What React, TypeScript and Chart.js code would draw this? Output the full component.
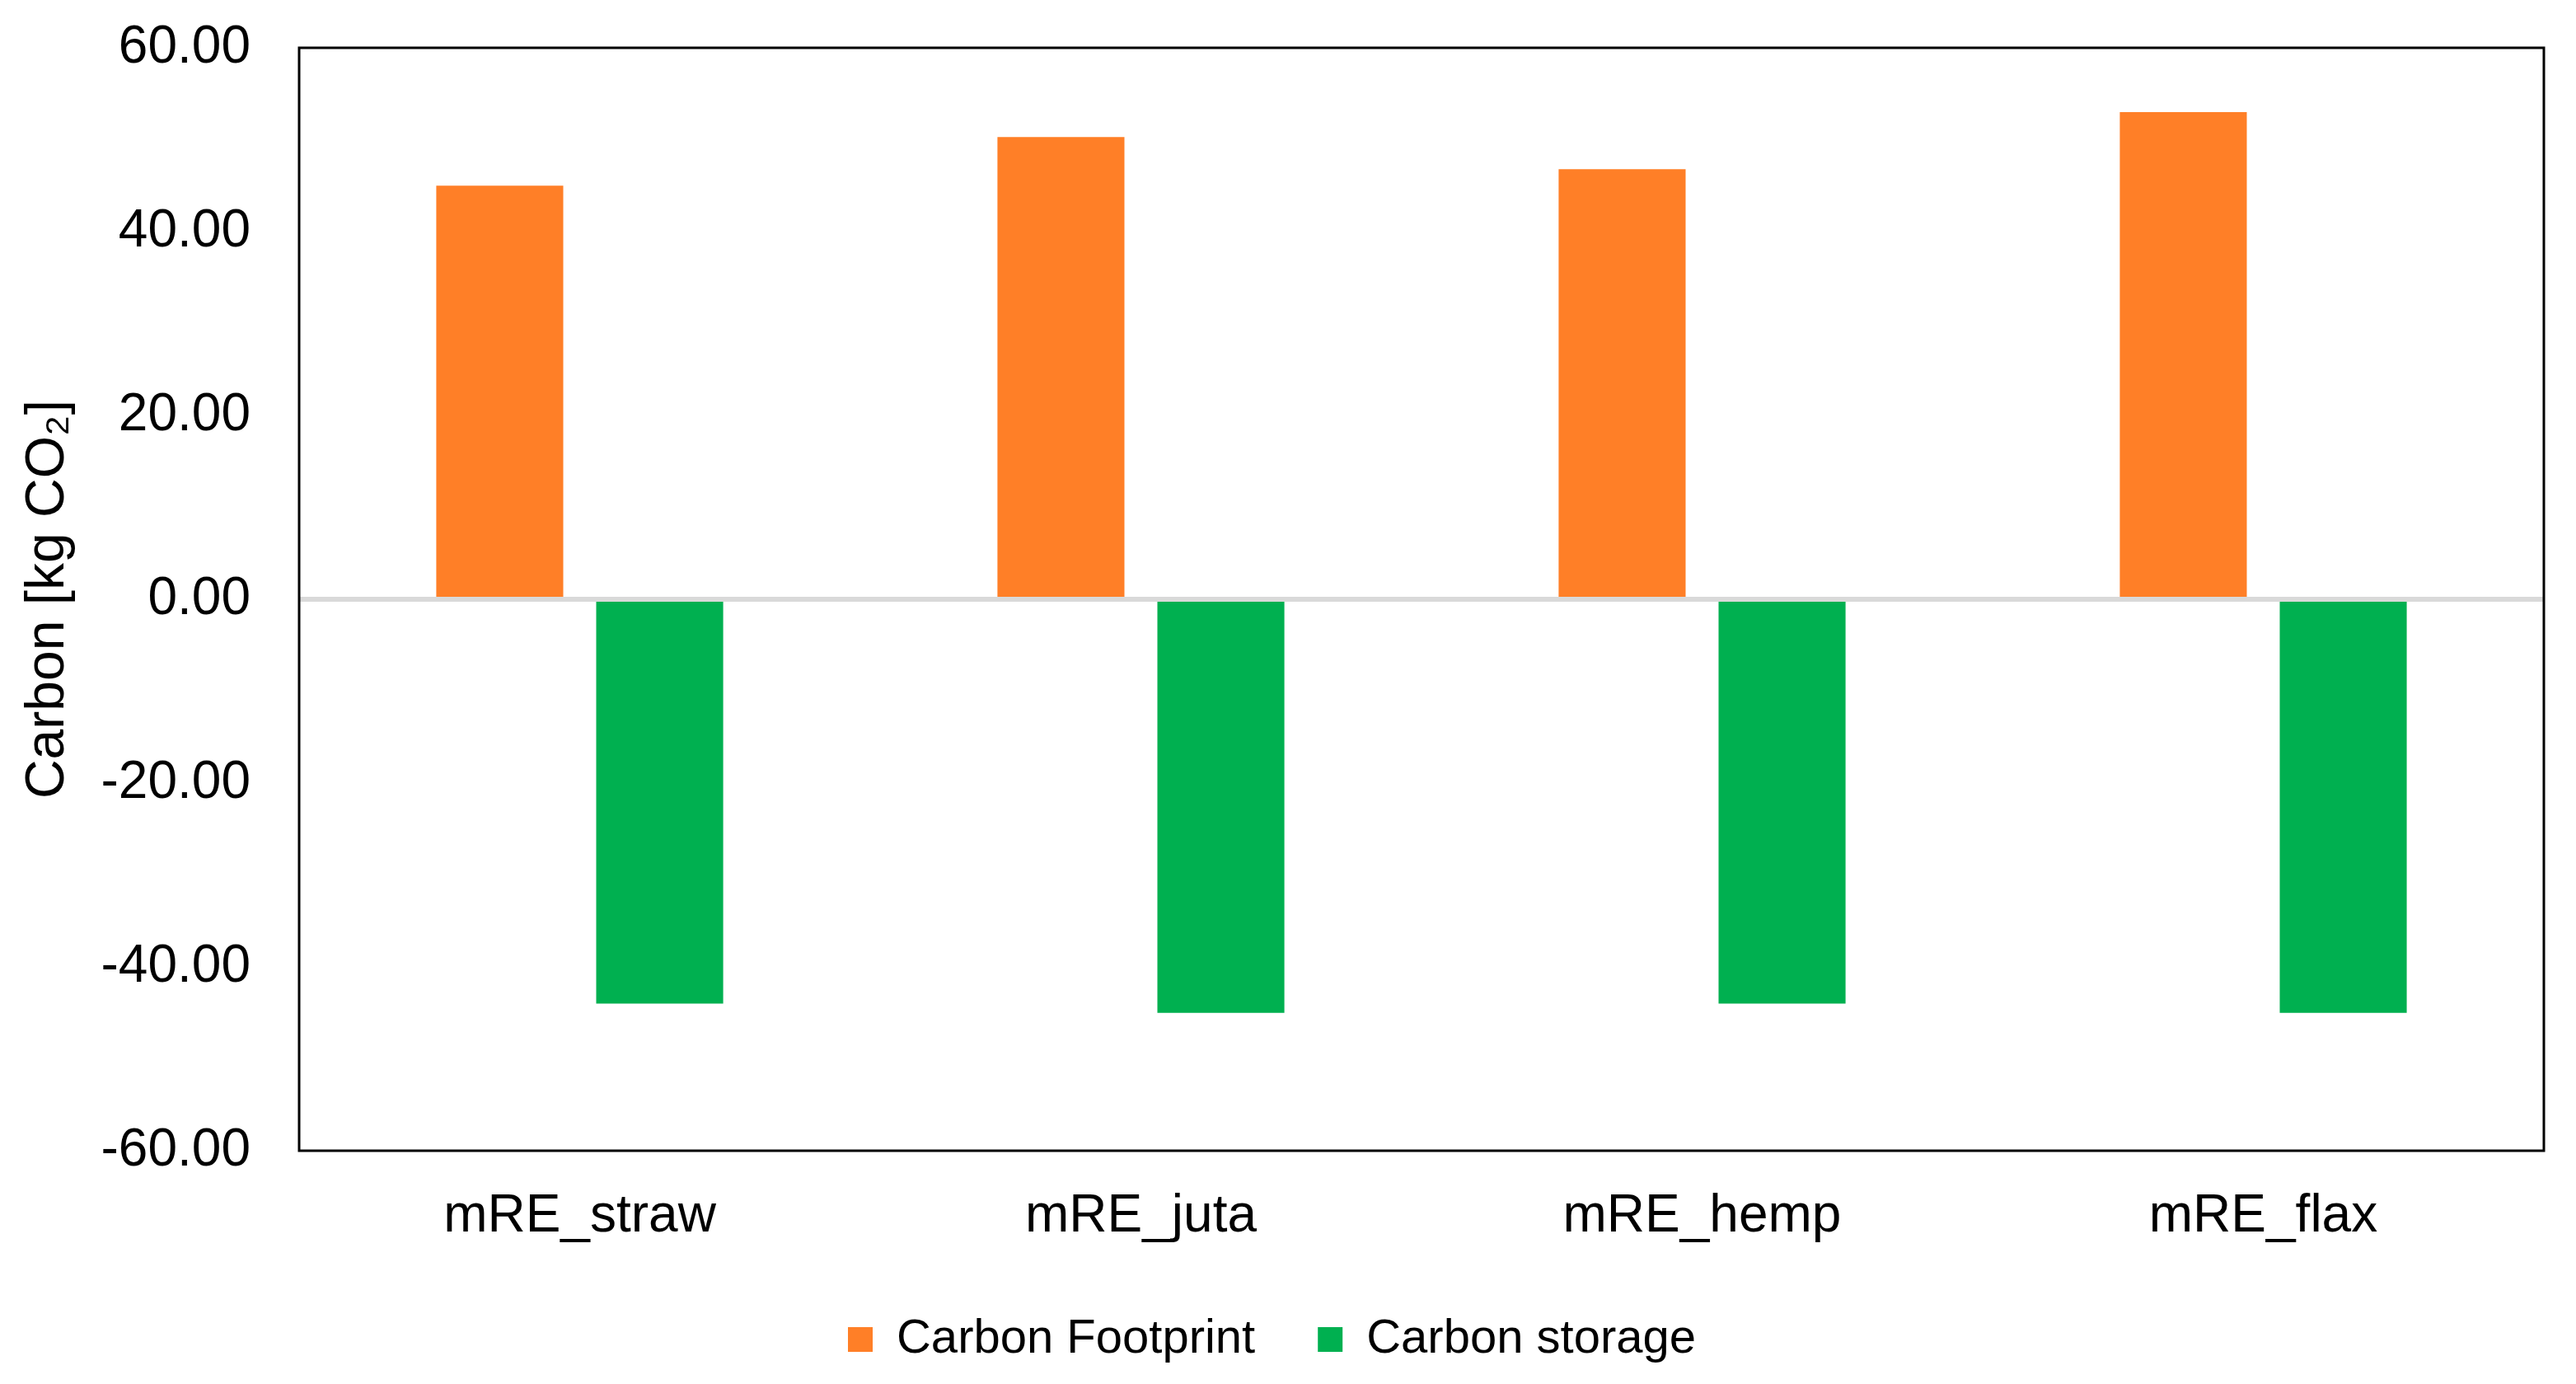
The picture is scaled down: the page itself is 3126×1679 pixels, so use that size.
import React, { useEffect, useRef } from 'react';
import { Chart, registerables } from 'chart.js';

Chart.register(...registerables);

const categories = ['mRE_straw', 'mRE_juta', 'mRE_hemp', 'mRE_flax'];
const carbonFootprint = [45.0, 50.3, 46.8, 53.0];
const carbonStorage = [-44.0, -45.0, -44.0, -45.0];
const yTicks = [-60, -40, -20, 0, 20, 40, 60];
const seriesNames = ['Carbon Footprint', 'Carbon storage'];
const seriesColors = ['#FF7F27', '#00B050'];
const yTitle = 'Carbon [kg CO\u2082]';

const FONT = "'Liberation Sans', Arial, sans-serif";

const framePlugin = {
  id: 'frame',
  afterDatasetsDraw(chart: any) {
    const { ctx, chartArea: a, scales } = chart;
    const y0 = scales.y.getPixelForValue(0);
    ctx.save();
    ctx.strokeStyle = '#D9D9D9';
    ctx.lineWidth = 6;
    ctx.beginPath();
    ctx.moveTo(a.left, y0);
    ctx.lineTo(a.right, y0);
    ctx.stroke();
    ctx.strokeStyle = '#000000';
    ctx.lineWidth = 3;
    ctx.strokeRect(a.left, a.top, a.right - a.left, a.bottom - a.top);
    ctx.restore();
  },
};

export default function App() {
  const ref = useRef<HTMLCanvasElement | null>(null);

  useEffect(() => {
    if (!ref.current) return;
    Chart.defaults.font.family = FONT;
    const chart = new Chart(ref.current, {
      type: 'bar',
      data: {
        labels: categories,
        datasets: [
          {
            label: seriesNames[0],
            data: carbonFootprint,
            backgroundColor: seriesColors[0],
            borderWidth: 0,
            categoryPercentage: 0.57,
            barPercentage: 0.794,
          },
          {
            label: seriesNames[1],
            data: carbonStorage,
            backgroundColor: seriesColors[1],
            borderWidth: 0,
            categoryPercentage: 0.57,
            barPercentage: 0.794,
          },
        ],
      },
      options: {
        responsive: false,
        animation: false,
        devicePixelRatio: 1,
        layout: { padding: { top: 58, right: 39, bottom: 15, left: 0 } },
        plugins: {
          tooltip: { enabled: false },
          legend: {
            position: 'bottom',
            labels: {
              font: { size: 58, family: FONT },
              color: '#000000',
              boxWidth: 30,
              boxHeight: 30,
              padding: 76,
            },
          },
        },
        scales: {
          x: {
            grid: { display: false, drawTicks: false },
            border: { display: false },
            ticks: { font: { size: 64, family: FONT }, color: '#000000', padding: 42, maxRotation: 0 },
            afterFit: (s: any) => {
              s.height = 124;
            },
          },
          y: {
            min: -60,
            max: 60,
            grid: { display: false, drawTicks: false },
            border: { display: false },
            afterBuildTicks: (s: any) => {
              s.ticks = yTicks.map((v) => ({ value: v }));
            },
            ticks: {
              font: { size: 64, family: FONT },
              color: '#000000',
              padding: 59,
              callback: (v: any) => Number(v).toFixed(2),
            },
            title: {
              display: true,
              text: yTitle,
              color: '#000000',
              font: { size: 66, family: FONT, lineHeight: 1.2 },
              padding: { top: 19, bottom: 0 },
            },
            afterFit: (s: any) => {
              s.width = 363;
              s.paddingTop = 0;
              s.paddingBottom = 0;
            },
          },
        },
      },
      plugins: [framePlugin],
    } as any);
    return () => chart.destroy();
  }, []);

  return (
    <div style={{ position: 'fixed', left: 0, top: 0, width: 3126, height: 1679, background: '#ffffff' }}>
      <canvas ref={ref} width={3126} height={1679} style={{ display: 'block', width: 3126, height: 1679 }} />
    </div>
  );
}
